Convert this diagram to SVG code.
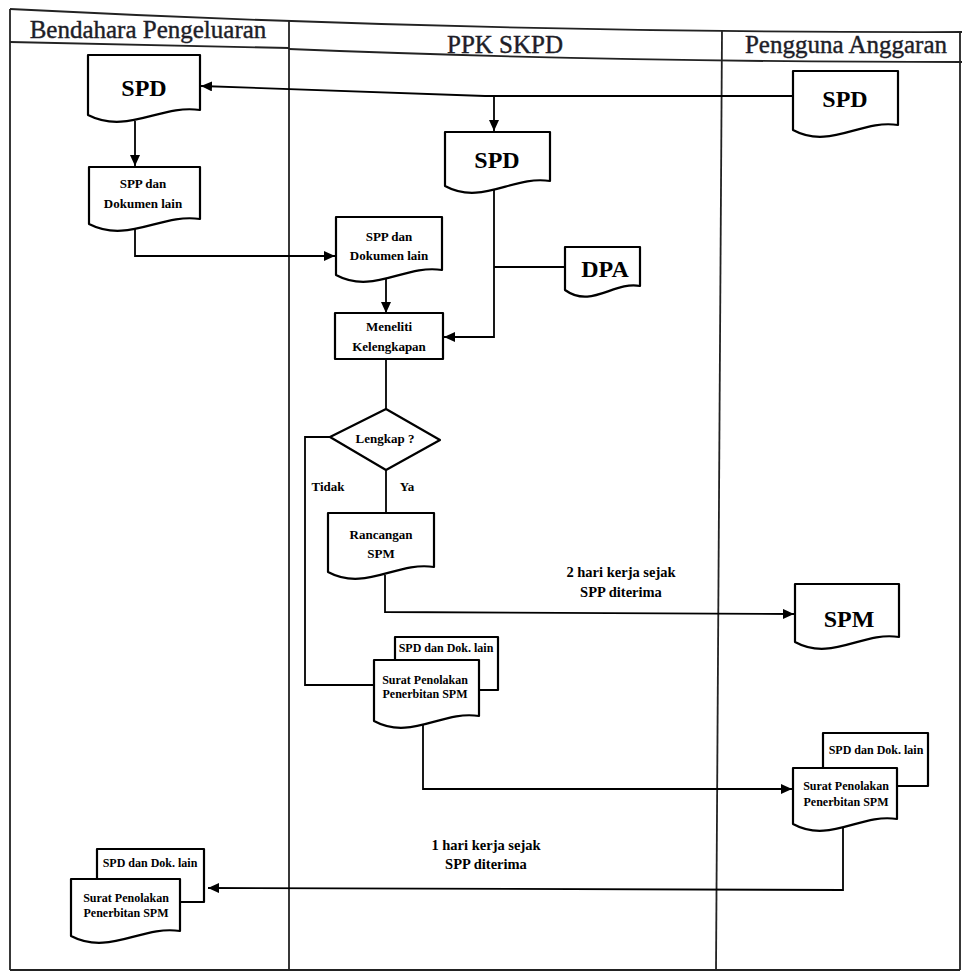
<svg xmlns="http://www.w3.org/2000/svg" width="962" height="974" viewBox="0 0 962 974">
<style>
  .lane { fill: none; stroke: #222; stroke-width: 1.8; }
  .shape { fill: #fff; stroke: #000; stroke-width: 2.2; stroke-linejoin: round; }
  .conn { fill: none; stroke: #000; stroke-width: 1.8; }
  .arrow { marker-end: url(#ah); }
  text { font-family: "Liberation Serif", "Times New Roman", serif; fill: #000; }
  .hdr { font-size: 25px; fill: #1e1e28; stroke: #1e1e28; stroke-width: 0.4; }
  .big { font-size: 24px; font-weight: bold; text-anchor: middle; }
  .mid { font-size: 13px; font-weight: bold; text-anchor: middle; }
  .sm { font-size: 12px; font-weight: bold; text-anchor: middle; }
  .lbl { font-size: 14.5px; font-weight: bold; text-anchor: middle; }
</style>
<defs>
  <marker id="ah" markerUnits="userSpaceOnUse" markerWidth="12" markerHeight="10" refX="11" refY="5" orient="auto">
    <path d="M0,0 L11,5 L0,10 Z" fill="#000"/>
  </marker>
</defs>
<rect x="0" y="0" width="962" height="974" fill="#fff"/>

<g id="swimlanes">
  <path class="lane" d="M10,9 Q480,33 962,32"/>
  <path class="lane" d="M10,9 V970"/>
  <path class="lane" d="M10,42 L289,48"/>
  <path class="lane" d="M289,49 Q600,62 962,62"/>
  <path class="lane" d="M289,20 V970"/>
  <path class="lane" d="M722,31 L716,970"/>
  <path class="lane" d="M960,32 V970" stroke="#999" stroke-width="1"/>
  <path class="lane" d="M10,970 H960"/>
  <text class="hdr" x="148" y="38" text-anchor="middle" font-size="26">Bendahara Pengeluaran</text>
  <text class="hdr" x="505" y="53" text-anchor="middle">PPK SKPD</text>
  <text class="hdr" x="846" y="53" text-anchor="middle">Pengguna Anggaran</text>
</g>

<g id="connectors">
  <path class="conn arrow" d="M793,96 L485,96 L201,86"/>
  <path class="conn arrow" d="M494,96 V131"/>
  <path class="conn arrow" d="M135,121 V166"/>
  <path class="conn arrow" d="M135,228 V256 H335"/>
  <path class="conn arrow" d="M386,278 V313"/>
  <path class="conn arrow" d="M494,190 V337 H444"/>
  <path class="conn" d="M494,267 H565"/>
  <path class="conn" d="M386,359 V409"/>
  <path class="conn" d="M330,437 H305 V685 H374"/>
  <path class="conn" d="M386,470 V513"/>
  <path class="conn arrow" d="M385,575 V612 L794,614"/>
  <path class="conn arrow" d="M423,725 V789 H792"/>
  <path class="conn arrow" d="M843,828 V890 L208,888"/>
  <text class="lbl" x="621" y="577">2 hari kerja sejak</text>
  <text class="lbl" x="621" y="597">SPP diterima</text>
  <text class="lbl" x="486" y="850">1 hari kerja sejak</text>
  <text class="lbl" x="486" y="869">SPP diterima</text>
  <text class="mid" x="328" y="491">Tidak</text>
  <text class="mid" x="407" y="491">Ya</text>
</g>

<g id="bp-spd">
  <path class="shape" d="M88,55 H200 V110 C160.8,104 127.2,135 88,115 Z"/>
  <text class="big" x="144" y="96">SPD</text>
</g>
<g id="bp-spp">
  <path class="shape" d="M89,167 H200 V219 C161.2,213 127.9,244 89,224 Z"/>
  <text class="mid" x="143" y="188">SPP dan</text>
  <text class="mid" x="143" y="208">Dokumen lain</text>
</g>
<g id="pa-spd">
  <path class="shape" d="M793,71 H898 V125 C861.3,119 829.8,150 793,130 Z"/>
  <text class="big" x="845" y="107">SPD</text>
</g>
<g id="ppk-spd">
  <path class="shape" d="M445,132 H550 V181 C513.3,175 481.8,206 445,186 Z"/>
  <text class="big" x="497" y="168">SPD</text>
</g>
<g id="ppk-spp">
  <path class="shape" d="M336,217 H442 V270 C404.9,264 373.1,295 336,275 Z"/>
  <text class="mid" x="389" y="241">SPP dan</text>
  <text class="mid" x="389" y="260">Dokumen lain</text>
</g>
<g id="ppk-dpa">
  <path class="shape" d="M565,247 H640 V286 C613.8,281 591.3,309 565,290 Z"/>
  <text class="big" x="605" y="277" font-size="21">DPA</text>
</g>
<g id="ppk-meneliti">
  <rect class="shape" x="335" y="313" width="108" height="46"/>
  <text class="mid" x="389" y="331">Meneliti</text>
  <text class="mid" x="389" y="351">Kelengkapan</text>
</g>
<g id="ppk-lengkap">
  <path class="shape" d="M386,409 L440,440 L386,470 L330,437 Z"/>
  <text class="mid" x="385" y="443">Lengkap ?</text>
</g>
<g id="ppk-rancangan">
  <path class="shape" d="M328,513 H434 V567 C396.9,561 365.1,592 328,572 Z"/>
  <text class="mid" x="381" y="539">Rancangan</text>
  <text class="mid" x="381" y="558">SPM</text>
</g>
<g id="pa-spm">
  <path class="shape" d="M795,584 H899 V637 C862.6,631 831.4,662 795,642 Z"/>
  <text class="big" x="849" y="627" font-weight="normal">SPM</text>
</g>
<g id="ppk-penolakan">
  <rect class="shape" x="395" y="637" width="103" height="53"/>
  <text class="sm" x="446" y="652">SPD dan Dok. lain</text>
  <path class="shape" d="M374,660 H479 V716 C442.3,710 410.8,741 374,721 Z"/>
  <text class="sm" x="425" y="684">Surat Penolakan</text>
  <text class="sm" x="425" y="698">Penerbitan SPM</text>
</g>
<g id="pa-penolakan">
  <rect class="shape" x="823" y="733" width="105" height="53"/>
  <text class="sm" x="876" y="754">SPD dan Dok. lain</text>
  <path class="shape" d="M793,768 H897 V819 C860.6,813 829.4,844 793,824 Z"/>
  <text class="sm" x="846" y="790">Surat Penolakan</text>
  <text class="sm" x="846" y="806">Penerbitan SPM</text>
</g>
<g id="bp-penolakan">
  <rect class="shape" x="97" y="849" width="107" height="53"/>
  <text class="sm" x="150" y="867">SPD dan Dok. lain</text>
  <path class="shape" d="M71,879 H180 V931 C141.9,925 109.2,956 71,936 Z"/>
  <text class="sm" x="126" y="902">Surat Penolakan</text>
  <text class="sm" x="126" y="917">Penerbitan SPM</text>
</g>
</svg>
